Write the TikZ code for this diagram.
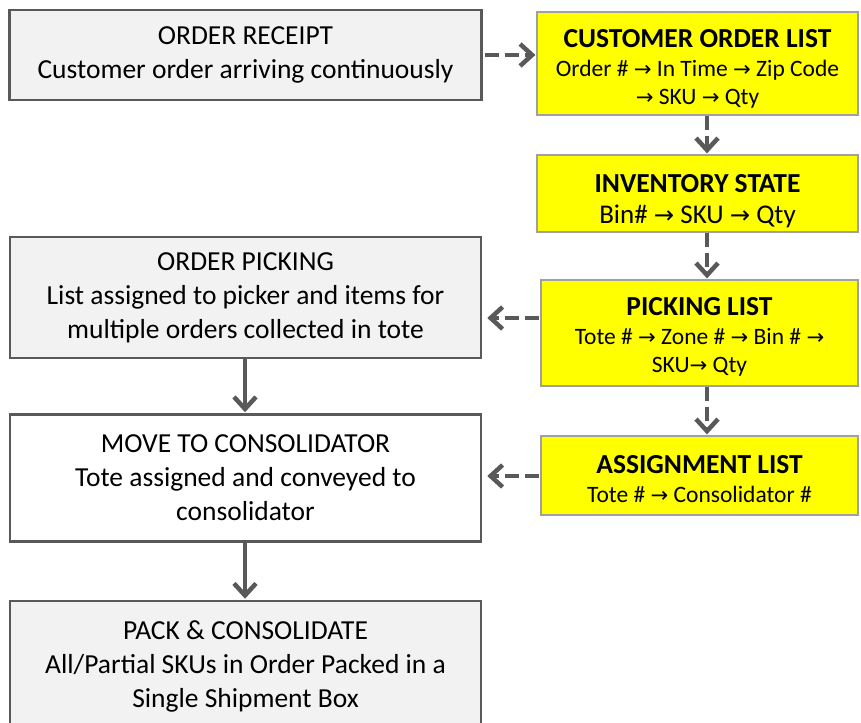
\documentclass[tikz,border=0pt]{standalone}
\usepackage{fontspec}
\setmainfont{Carlito}
\newfontfamily\arrfont[Scale=0.9]{DejaVu Sans}
\newcommand\myarr{{\arrfont\symbol{"2192}}}
\newcommand\ttl[1]{{\fontsize{27.5}{31}\selectfont\bfseries #1}}
\usetikzlibrary{arrows.meta}
\definecolor{boxgray}{HTML}{595959}
\definecolor{lightfill}{HTML}{F2F2F2}
\definecolor{ygray}{HTML}{A0A0A0}
\definecolor{yfill}{HTML}{FFFF00}
\tikzset{
  procbox/.style={draw=boxgray, line width=2.5pt, fill=lightfill, align=center, inner sep=0pt,
    font=\fontsize{27.5}{34}\selectfont, text=black},
  listbox/.style={draw=ygray, line width=1.2pt, fill=yfill, inner sep=0pt},
  listtext/.style={align=center, inner sep=0pt, text=black, font=\fontsize{23.5}{28}\selectfont},
  solidarrow/.style={draw=boxgray, line width=4pt, -{Straight Barb[length=12pt,width=22pt,line width=4.5pt]}},
  dasharrow/.style={solidarrow, dash pattern=on 14pt off 6pt},
}
\begin{document}
\begin{tikzpicture}[x=1pt,y=-1pt]
\useasboundingbox (0,0) rectangle (861,722);
\coordinate (ax) at (707,0);
\coordinate (lx) at (245,0);
% left process boxes
\node[procbox, minimum width=472pt, minimum height=90pt] (receipt) at (245.5,55)
  {ORDER RECEIPT\\Customer order arriving continuously};
\node[procbox, minimum width=471pt, minimum height=121pt] (picking) at (245.5,297.5)
  {ORDER PICKING\\List assigned to picker and items for\\multiple orders collected in tote};
\node[procbox, fill=white, minimum width=471pt, minimum height=127pt] (move) at (245.5,478)
  {MOVE TO CONSOLIDATOR\\Tote assigned and conveyed to\\consolidator};
\node[procbox, minimum width=471pt, minimum height=130pt] (pack) at (245.5,666)
  {PACK \& CONSOLIDATE\\All/Partial SKUs in Order Packed in a\\Single Shipment Box};
% right list boxes
\node[listbox, minimum width=321pt, minimum height=103pt] (col) at (697.5,63.5) {};
\node[listtext] (colt) at (697.5,69) {\ttl{CUSTOMER ORDER LIST}\\[1pt]
   Order \# \myarr{} In Time \myarr{} Zip Code\\
   \myarr{} SKU \myarr{} Qty};
\node[listbox, minimum width=321pt, minimum height=77pt] (inv) at (697.5,193.5) {};
\node[listtext, font=\fontsize{27}{31}\selectfont] (invt) at (697.5,201) {\ttl{INVENTORY STATE}\\
   Bin\# \myarr{} SKU \myarr{} Qty};
\node[listbox, minimum width=317pt, minimum height=106pt] (plist) at (699.5,333) {};
\node[listtext] (plistt) at (699.5,337) {\ttl{PICKING LIST}\\[1pt]
   Tote \# \myarr{} Zone \# \myarr{} Bin \# \myarr\\
   SKU\myarr{} Qty};
\node[listbox, minimum width=317pt, minimum height=79pt] (alist) at (699.5,475.5) {};
\node[listtext] (alistt) at (699.5,479.5) {\ttl{ASSIGNMENT LIST}\\[1pt]
   Tote \# \myarr{} Consolidator \#};
% connectors
\draw[dasharrow, shorten <=2pt, shorten >=1pt] (receipt.east) -- (receipt.east -| col.west);
\draw[dasharrow, shorten >=1pt] (col.south -| ax) -- (inv.north -| ax);
\draw[dasharrow, shorten >=1pt] (inv.south -| ax) -- (plist.north -| ax);
\draw[dasharrow, shorten <=1pt, shorten >=5pt] (plist.west |- 0,318) -- (picking.east |- 0,318);
\draw[dasharrow, shorten >=1pt] (plist.south -| ax) -- (alist.north -| ax);
\draw[dasharrow, shorten <=1pt, shorten >=5pt] (alist.west |- 0,476) -- (move.east |- 0,476);
\draw[solidarrow, shorten >=1pt] (picking.south -| lx) -- (move.north -| lx);
\draw[solidarrow, shorten >=1pt] (move.south -| lx) -- (pack.north -| lx);
\end{tikzpicture}
\end{document}
